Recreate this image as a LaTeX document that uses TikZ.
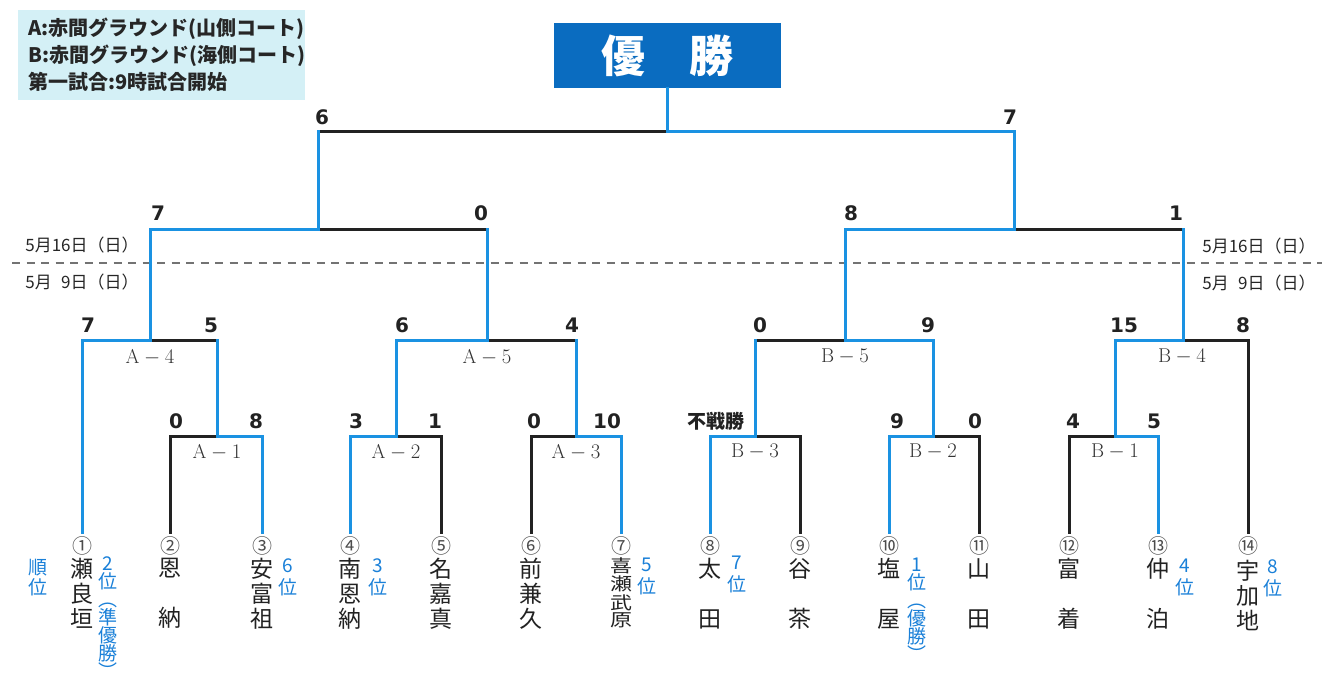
\documentclass[tikz,border=0pt]{standalone}
\usepackage{fontspec}
\usepackage{graphicx}
\newfontfamily\jp{Noto Sans CJK JP}
\newfontfamily\scorefnt{DejaVu Sans}
\definecolor{lineblue}{HTML}{1A92E2}
\definecolor{titleblue}{HTML}{0A6CC0}
\definecolor{rankblue}{HTML}{1A80D8}
\definecolor{legendbg}{HTML}{D4F0F6}
\definecolor{txt}{HTML}{222222}
\begin{document}
\begin{tikzpicture}[x=1pt,y=-1pt,
  win/.style={draw=lineblue, line width=3pt, line cap=rect},
  lose/.style={draw=txt, line width=3pt, line cap=rect},
  leafwin/.style={win, shorten <=4pt},
  leaflose/.style={lose, shorten <=4pt},
  score/.style={font=\scorefnt\bfseries\fontsize{20}{20}\selectfont, text=txt, inner sep=0},
  mlabel/.style={font=\fontsize{20}{20}\selectfont, text=black!80, inner sep=0},
  cnum/.style={font=\jp\fontsize{20}{20}\selectfont, text=black!70, inner sep=0},
  tname/.style={font=\jp\fontsize{23}{25}\selectfont, text=txt, align=center, anchor=north, inner sep=0},
  rank/.style={font=\jp\fontsize{19}{22}\selectfont, text=rankblue, align=center, anchor=north, inner sep=0},
  ranklong/.style={rank, font=\jp\fontsize{19}{18}\selectfont},
  datel/.style={font=\jp\fontsize{17}{17}\selectfont, text=black!85, inner sep=0},
  titlebox/.style={fill=titleblue, text=white, minimum width=227, minimum height=65, inner sep=0, font=\jp\bfseries\fontsize{44}{44}\selectfont},
  legendbox/.style={fill=legendbg, anchor=north west, minimum width=287, minimum height=90, text width=267, inner xsep=10, inner ysep=0, align=left, text=black!85, font=\jp\bfseries\fontsize{20}{27}\selectfont}
]
\useasboundingbox (0,0) rectangle (1335,685);

% legend
\node[legendbox] (legend) at (18,10) {A:赤間グラウンド(山側コート)\\B:赤間グラウンド(海側コート)\\第一試合:9時試合開始};

% title
\node[titlebox] (title) at (667,55.5) {優　勝};

% match junctions
\coordinate (F) at (667,131);
\coordinate (S1) at (318,229);
\coordinate (S2) at (1014,229);
\coordinate (A4) at (150,340);
\coordinate (A5) at (487,340);
\coordinate (B5) at (845,340);
\coordinate (B4) at (1183,340);
\coordinate (A1) at (217,436);
\coordinate (A2) at (396,436);
\coordinate (A3) at (576,436);
\coordinate (B3) at (755,436);
\coordinate (B2) at (933,436);
\coordinate (B1) at (1115,436);

% date divider
\coordinate (dl) at (12,263);
\coordinate (dr) at (1322,263);
\draw[black!55, line width=1.6pt, dash pattern=on 8pt off 6.5pt] (dl) -- (dr);
\node[datel] (d1) at (82,245) {5月16日（日）};
\node[datel] (d2) at (82,282) {5月\hphantom{1}9日（日）};
\node[datel] (d3) at (1259,246) {5月16日（日）};
\node[datel] (d4) at (1259,283) {5月\hphantom{1}9日（日）};

% circled numbers
\foreach \i/\x/\c in {1/82/①,2/170/②,3/262/③,4/350/④,5/441/⑤,6/531/⑥,7/621/⑦,8/710/⑧,9/800/⑨,10/889/⑩,11/979/⑪,12/1069/⑫,13/1158/⑬,14/1248/⑭}
  \node[cnum] (c\i) at (\x,546) {\c};

% team names
\node[tname] (n1) at (82,558) {瀬\\良\\垣};
\node[tname] (n2) at (170,558) {恩\\[25pt]納};
\node[tname] (n3) at (262,558) {安\\富\\祖};
\node[tname] (n4) at (350,558) {南\\恩\\納};
\node[tname] (n5) at (441,558) {名\\嘉\\真};
\node[tname] (n6) at (531,558) {前\\兼\\久};
\node[tname, font=\jp\fontsize{22}{22}\selectfont] (n7) at (621,557) {\scalebox{1}[0.8]{\shortstack{喜\\瀬\\武\\原}}};
\node[tname] (n8) at (710,558) {太\\[25pt]田};
\node[tname] (n9) at (800,558) {谷\\[25pt]茶};
\node[tname] (n10) at (889,558) {塩\\[25pt]屋};
\node[tname] (n11) at (979,558) {山\\[25pt]田};
\node[tname] (n12) at (1069,558) {富\\[25pt]着};
\node[tname] (n13) at (1158,558) {仲\\[25pt]泊};
\node[tname] (n14) at (1248,560) {宇\\加\\地};

% ranks
\node[rank, font=\jp\fontsize{19}{20}\selectfont] (r0) at (38,559) {順\\位};
\node[ranklong] (r2) at (108,556) {2\\位\\︵\\準\\優\\勝\\︶};
\node[rank] (r6) at (288,558) {6\\位};
\node[rank] (r3) at (378,558) {3\\位};
\node[rank] (r5) at (647,558) {5\\位};
\node[rank] (r7) at (737,556) {7\\位};
\node[ranklong] (r1) at (917,558) {1\\位\\︵\\優\\勝\\︶};
\node[rank] (r4) at (1185,559) {4\\位};
\node[rank] (r8) at (1273,559) {8\\位};

% ---- bracket lines: losers first, winners on top ----
\draw[leaflose] (c2.north) |- (A1);
\draw[leafwin] (c3.north) |- (A1);
\draw[leafwin] (c4.north) |- (A2);
\draw[leaflose] (c5.north) |- (A2);
\draw[leaflose] (c6.north) |- (A3);
\draw[leafwin] (c7.north) |- (A3);
\draw[leafwin] (c8.north) |- (B3);
\draw[leaflose] (c9.north) |- (B3);
\draw[leafwin] (c10.north) |- (B2);
\draw[leaflose] (c11.north) |- (B2);
\draw[leaflose] (c12.north) |- (B1);
\draw[leafwin] (c13.north) |- (B1);
\draw[leafwin] (c1.north) |- (A4);
\draw[leaflose] (c14.north) |- (B4);

\draw[lose] (A1 |- A4) -- (A4);
\draw[win] (A1) -- (A1 |- A4);
\draw[win] (A2) |- (A5);
\draw[lose] (A3 |- A5) -- (A5);
\draw[win] (A3) -- (A3 |- A5);
\draw[lose] (B3 |- B5) -- (B5);
\draw[win] (B3) -- (B3 |- B5);
\draw[win] (B2) |- (B5);
\draw[win] (B1) |- (B4);

\draw[win] (A4) |- (S1);
\draw[lose] (A5 |- S1) -- (S1);
\draw[win] (A5) -- (A5 |- S1);
\draw[win] (B5) |- (S2);
\draw[lose] (B4 |- S2) -- (S2);
\draw[win] (B4) -- (B4 |- S2);

\draw[lose] (S1 |- F) -- (F);
\draw[win] (S1) -- (S1 |- F);
\draw[win] (S2) |- (F);
\draw[win] (F) -- (title.south);

% match labels
\node[mlabel] (lA1) at (217,452) {$\mathrm{A}-1$};
\node[mlabel] (lA2) at (396,452) {$\mathrm{A}-2$};
\node[mlabel] (lA3) at (576,452) {$\mathrm{A}-3$};
\node[mlabel] (lA4) at (150,357) {$\mathrm{A}-4$};
\node[mlabel] (lA5) at (487,357) {$\mathrm{A}-5$};
\node[mlabel] (lB1) at (1115,452) {$\mathrm{B}-1$};
\node[mlabel] (lB2) at (933,452) {$\mathrm{B}-2$};
\node[mlabel] (lB3) at (755,452) {$\mathrm{B}-3$};
\node[mlabel] (lB4) at (1182,357) {$\mathrm{B}-4$};
\node[mlabel] (lB5) at (845,357) {$\mathrm{B}-5$};

% scores
\node[score] (sF1) at (322,117) {6};
\node[score] (sF2) at (1010,117) {7};
\node[score] (sS1) at (158,213) {7};
\node[score] (sS2) at (481,213) {0};
\node[score] (sS3) at (851,213) {8};
\node[score] (sS4) at (1176,213) {1};
\node[score] (sA4a) at (88,325) {7};
\node[score] (sA4b) at (211,325) {5};
\node[score] (sA5a) at (402,325) {6};
\node[score] (sA5b) at (572,325) {4};
\node[score] (sB5a) at (760,325) {0};
\node[score] (sB5b) at (928,325) {9};
\node[score] (sB4a) at (1124,325) {15};
\node[score] (sB4b) at (1243,325) {8};
\node[score] (sA1a) at (176,421) {0};
\node[score] (sA1b) at (256,421) {8};
\node[score] (sA2a) at (356,421) {3};
\node[score] (sA2b) at (435,421) {1};
\node[score] (sA3a) at (534,421) {0};
\node[score] (sA3b) at (607,421) {10};
\node[score, font=\jp\bfseries\fontsize{19}{19}\selectfont] (sB3a) at (716,421) {不戦勝};
\node[score] (sB2a) at (897,421) {9};
\node[score] (sB2b) at (975,421) {0};
\node[score] (sB1a) at (1073,421) {4};
\node[score] (sB1b) at (1154,421) {5};
\end{tikzpicture}
\end{document}
